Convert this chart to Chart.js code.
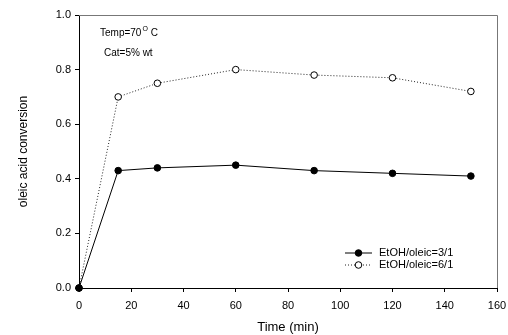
<!DOCTYPE html>
<html lang="en">
<head>
    <meta charset="UTF-8">
    <title>Oleic acid conversion vs time</title>
    <script src="https://cdn.jsdelivr.net/npm/chart.js"></script>
    <style>
        html, body { margin: 0; padding: 0; background: #fff; }
        #wrap { position: relative; width: 508px; height: 335px; }
    </style>
</head>
<body>
    <div id="wrap"><canvas id="convChart" width="508" height="335"></canvas></div>

    <script>
        // --- DATA ---
        const timeMin = [0, 15, 30, 60, 90, 120, 150];
        const ratio3to1 = [0, 0.43, 0.44, 0.45, 0.43, 0.42, 0.41];
        const ratio6to1 = [0, 0.70, 0.75, 0.80, 0.78, 0.77, 0.72];
        const seriesLabels = ['EtOH/oleic=3/1', 'EtOH/oleic=6/1'];
        const xTicks = [0, 20, 40, 60, 80, 100, 120, 140, 160];
        const yTicks = [0.0, 0.2, 0.4, 0.6, 0.8, 1.0];

        const FONT = 'Arial, "Liberation Sans", sans-serif';
        const toPoints = vals => timeMin.map((t, i) => ({ x: t, y: vals[i] }));

        // frame, annotation text and legend drawn on the canvas
        const extras = {
            id: 'extras',
            afterDraw(chart) {
                const ctx = chart.ctx;
                const a = chart.chartArea;
                ctx.save();
                // grey top/right frame
                ctx.strokeStyle = '#777';
                ctx.lineWidth = 1;
                ctx.beginPath();
                ctx.moveTo(a.left, a.top + 0.5);
                ctx.lineTo(a.right + 0.5, a.top + 0.5);
                ctx.lineTo(a.right + 0.5, a.bottom);
                ctx.stroke();

                // annotation
                ctx.fillStyle = '#000';
                ctx.textBaseline = 'middle';
                ctx.font = '10px ' + FONT;
                const tx = a.left + 21, ty = a.top + 18;
                ctx.fillText('Temp=70', tx, ty);
                let w = ctx.measureText('Temp=70').width;
                ctx.font = '7px ' + FONT;
                ctx.fillText('O', tx + w + 1, ty - 4);
                const w2 = ctx.measureText('O').width;
                ctx.font = '10px ' + FONT;
                ctx.fillText(' C', tx + w + 1 + w2, ty);
                ctx.fillText('Cat=5% wt', a.left + 25, a.top + 38);

                // legend
                chart.data.datasets.forEach((ds, i) => {
                    const ly = a.top + 238 + i * 12;
                    const lx = a.left + 266;
                    ctx.strokeStyle = ds.borderColor;
                    ctx.lineWidth = 1;
                    ctx.setLineDash(ds.borderDash || []);
                    ctx.beginPath();
                    ctx.moveTo(lx, ly);
                    ctx.lineTo(lx + 27, ly);
                    ctx.stroke();
                    ctx.setLineDash([]);
                    ctx.beginPath();
                    ctx.arc(lx + 13.5, ly, 3.3, 0, Math.PI * 2);
                    ctx.fillStyle = ds.pointBackgroundColor;
                    ctx.fill();
                    ctx.strokeStyle = '#000';
                    ctx.stroke();
                    ctx.fillStyle = '#000';
                    ctx.font = '11px ' + FONT;
                    ctx.fillText(ds.label, lx + 34, ly);
                });
                ctx.restore();
            }
        };

        new Chart(document.getElementById('convChart'), {
            type: 'scatter',
            data: {
                datasets: [
                    {
                        label: seriesLabels[0],
                        data: toPoints(ratio3to1),
                        showLine: true,
                        borderColor: '#000',
                        borderWidth: 1,
                        pointRadius: 3.3,
                        pointBackgroundColor: '#000',
                        pointBorderColor: '#000',
                        pointBorderWidth: 1
                    },
                    {
                        label: seriesLabels[1],
                        data: toPoints(ratio6to1),
                        showLine: true,
                        borderColor: '#222',
                        borderWidth: 1,
                        borderDash: [1, 2],
                        pointRadius: 3.3,
                        pointBackgroundColor: '#fff',
                        pointBorderColor: '#000',
                        pointBorderWidth: 1
                    }
                ]
            },
            options: {
                responsive: false,
                animation: false,
                clip: false,
                layout: { padding: { top: 15, right: 11, left: 0, bottom: 0 } },
                plugins: { legend: { display: false }, tooltip: { enabled: false } },
                scales: {
                    x: {
                        type: 'linear',
                        min: 0, max: 160,
                        afterBuildTicks: s => { s.ticks = xTicks.map(v => ({ value: v })); },
                        afterFit: s => { s.height = 47; s.paddingLeft = 0; s.paddingRight = 0; },
                        grid: { drawOnChartArea: false, tickLength: 4, color: '#000' },
                        border: { color: '#000', width: 1 },
                        ticks: { color: '#000', font: { family: FONT, size: 11 }, padding: 7, maxRotation: 0 },
                        title: { display: true, text: 'Time (min)', color: '#000', font: { family: FONT, size: 13 }, padding: { top: 0, bottom: 0 } }
                    },
                    y: {
                        type: 'linear',
                        min: 0, max: 1,
                        afterBuildTicks: s => { s.ticks = yTicks.map(v => ({ value: v })); },
                        afterFit: s => { s.width = 79; s.paddingTop = 0; s.paddingBottom = 0; },
                        grid: { drawOnChartArea: false, tickLength: 4, color: '#000' },
                        border: { color: '#000', width: 1 },
                        ticks: { color: '#000', font: { family: FONT, size: 11 }, padding: 4, callback: v => v.toFixed(1) },
                        title: { display: true, text: 'oleic acid conversion', color: '#000', font: { family: FONT, size: 12 }, padding: { top: 16, bottom: 0 } }
                    }
                }
            },
            plugins: [extras]
        });
    </script>
</body>
</html>
